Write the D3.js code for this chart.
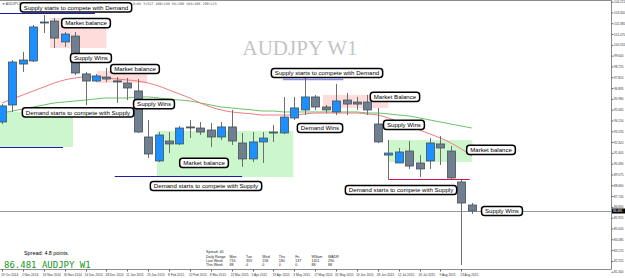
<!DOCTYPE html>
<html lang="en">
<head>
<meta charset="utf-8">
<script src="https://cdnjs.cloudflare.com/ajax/libs/d3/7.8.5/d3.min.js"></script>
<style>
  body { margin: 0; background: #fff; }
  svg { display: block; font-family: "Liberation Sans", Arial, sans-serif; }
</style>
</head>
<body>
<script>
// weekly bars, AUDJPY W1
let weeks = ["19 Oct 2014", "26 Oct 2014", "2 Nov 2014", "9 Nov 2014", "16 Nov 2014", "23 Nov 2014",
  "30 Nov 2014", "7 Dec 2014", "14 Dec 2014", "21 Dec 2014", "28 Dec 2014", "4 Jan 2015",
  "11 Jan 2015", "18 Jan 2015", "25 Jan 2015", "1 Feb 2015", "8 Feb 2015", "15 Feb 2015",
  "22 Feb 2015", "1 Mar 2015", "8 Mar 2015", "15 Mar 2015", "22 Mar 2015", "29 Mar 2015",
  "5 Apr 2015", "12 Apr 2015", "19 Apr 2015", "26 Apr 2015", "3 May 2015", "10 May 2015",
  "17 May 2015", "24 May 2015", "31 May 2015", "7 Jun 2015", "14 Jun 2015", "21 Jun 2015",
  "28 Jun 2015", "5 Jul 2015", "12 Jul 2015", "19 Jul 2015", "26 Jul 2015", "2 Aug 2015",
  "9 Aug 2015", "16 Aug 2015", "23 Aug 2015", "30 Aug 2015"];

let open = [94.02, 95.46, 98.93, 99.19, 102.49, 102.57, 100.80, 101.30, 98.09, 97.49, 97.83, 97.50,
  97.32, 96.65, 92.75, 90.72, 92.41, 92.16, 93.60, 93.51, 93.34, 92.75, 93.60, 92.24,
  90.89, 92.33, 93.17, 93.09, 94.36, 95.04, 96.14, 95.29, 94.87, 95.88, 95.71, 95.71,
  93.85, 91.22, 90.55, 91.56, 90.55, 90.72, 92.16, 91.56, 88.94, 86.99];
let high = [95.54, 99.27, 99.95, 102.24, 103.08, 102.83, 101.64, 101.64, 98.26, 98.09, 98.59, 97.83,
  97.75, 97.66, 94.19, 93.17, 93.17, 93.68, 94.19, 94.02, 93.93, 94.02, 95.04, 93.09,
  93.17, 93.17, 93.77, 96.14, 96.14, 97.75, 96.31, 95.46, 97.24, 96.48, 96.14, 96.31,
  95.21, 92.49, 91.82, 92.41, 91.22, 92.66, 92.83, 91.99, 89.11, 87.16];
let low = [93.85, 94.87, 98.26, 99.10, 101.56, 100.29, 100.37, 98.00, 95.46, 97.41, 97.41, 95.63,
  95.88, 93.10, 90.97, 90.63, 91.39, 92.07, 92.66, 92.92, 91.90, 92.49, 92.07, 90.21,
  90.63, 90.55, 92.33, 93.00, 94.19, 94.61, 95.04, 94.78, 94.61, 94.61, 95.04, 94.61,
  92.24, 89.19, 90.55, 90.04, 89.36, 90.04, 90.38, 89.19, 81.91, 86.23];
let close = [95.38, 99.10, 99.27, 102.07, 102.45, 101.13, 101.47, 98.17, 97.49, 97.92, 97.66, 97.49,
  96.90, 93.17, 91.31, 92.92, 92.16, 93.51, 93.58, 93.17, 92.75, 93.60, 92.41, 90.89,
  92.33, 92.66, 93.15, 94.44, 95.21, 96.14, 95.29, 95.04, 95.80, 95.54, 95.54, 95.04,
  92.33, 91.39, 91.48, 90.29, 90.04, 92.24, 91.82, 89.28, 87.16, 86.481];

// moving averages
let maRed = [95.63, 95.97, 96.31, 96.65, 96.98, 97.32, 97.58, 97.75, 97.83, 97.83, 97.75, 97.66,
  97.58, 97.49, 97.32, 97.07, 96.73, 96.39, 96.05, 95.63, 95.29, 95.04, 94.87, 94.78,
  94.70, 94.61, 94.61, 94.61, 94.61, 94.70, 94.78, 94.78, 94.78, 94.78, 94.78, 94.70,
  94.61, 94.36, 94.02, 93.68, 93.34, 93.00, 92.66, 92.24, 91.73, 91.14];
let maGreen = [94.78, 94.95, 95.12, 95.29, 95.46, 95.63, 95.71, 95.80, 95.88, 95.97, 96.05, 96.05,
  96.05, 96.14, 96.14, 96.05, 95.97, 95.88, 95.80, 95.63, 95.46, 95.29, 95.21, 95.12,
  95.04, 94.95, 94.95, 94.87, 94.87, 94.87, 94.87, 94.87, 94.87, 94.87, 94.87, 94.78,
  94.78, 94.70, 94.61, 94.53, 94.36, 94.19, 94.02, 93.85, 93.68, 93.51];

let priceTicks = [104.215, 103.300, 102.385, 101.470, 100.555, 99.640, 98.725, 97.810, 96.895,
  95.980, 95.065, 94.150, 93.235, 92.320, 91.405, 90.490, 89.575, 88.660, 87.745, 86.830,
  85.915, 85.000, 84.085, 83.170, 82.255, 81.340];
let bid = 86.481;

// drawn objects: [fromBar, toBar, topPrice, bottomPrice, kind]
let zones = [
  [4.6, 10.0, 102.83, 100.29, "supply"],
  [9.1, 13.9, 98.34, 97.32, "supply"],
  [-0.3, 6.8, 94.87, 91.90, "demand"],
  [14.85, 27.9, 93.26, 89.36, "demand"],
  [30.75, 37.0, 96.31, 95.21, "supply"],
  [37.0, 45.0, 92.49, 90.63, "demand"]
];
// [fromBar, toBar, price, kind]
let levels = [
  [-0.3, 8.9, 103.25, "navy"],
  [-0.3, 5.85, 91.90, "navy"],
  [10.8, 23.0, 89.44, "navy"],
  [26.9, 32.7, 97.66, "light"],
  [37.0, 44.8, 89.19, "red"]
];
// [bar, price, text]
let notes = [
  [7.09, 103.72, "Supply starts to compete with Demand"],
  [8.05, 102.40, "Market balance"],
  [8.52, 99.44, "Supply Wins"],
  [12.74, 98.51, "Market balance"],
  [14.56, 95.54, "Supply Wins"],
  [7.28, 94.83, "Demand starts to compete with Supply"],
  [19.35, 90.55, "Market balance"],
  [19.54, 88.60, "Demand starts to compete with Supply"],
  [31.13, 98.17, "Supply starts to compete with Demand"],
  [37.64, 96.14, "Market Balance"],
  [30.46, 93.51, "Demand Wins"],
  [38.5, 93.77, "Supply Wins"],
  [46.84, 91.65, "Market balance"],
  [38.22, 88.26, "Demand starts to compete with Supply"],
  [47.89, 86.48, "Supply Wins"]
];

let rangeCols = ["Mon", "Tue", "Wed", "Thu", "Fri", "WSum", "WADR"];
let lastWeek = [716, 359, 158, 180, 137, 1451, 290];
let thisWeek = [88, 0, 0, 0, 0, 88, 88];

let w = 625, h = 278;
let plotRight = 611, plotBottom = 269.5;

let svg = d3.select("body").append("svg")
  .attr("width", w)
  .attr("height", h);

let x = d3.scaleLinear().domain([0, 45]).range([2, 471.8]);
let y = d3.scaleLinear().domain([bid, 104.353]).range([211, 0]);

svg.append("clipPath").attr("id", "plot")
  .append("rect").attr("x", 0).attr("y", 0).attr("width", plotRight).attr("height", plotBottom);

let plot = svg.append("g").attr("clip-path", "url(#plot)");

// zones
plot.selectAll("rect.zone")
  .data(zones)
  .join("rect")
  .attr("class", "zone")
  .attr("x", d => x(d[0]))
  .attr("y", d => y(d[2]))
  .attr("width", d => x(d[1]) - x(d[0]))
  .attr("height", d => y(d[3]) - y(d[2]))
  .attr("fill", d => d[4] == "supply" ? "#ffdcdc" : "#ccf6cc");

// watermark
svg.append("text")
  .attr("x", 300).attr("y", 55)
  .attr("text-anchor", "middle")
  .attr("font-family", "'Liberation Serif', 'Times New Roman', serif")
  .attr("font-size", 21)
  .attr("fill", "#c4c4c4")
  .text("AUDJPY W1");

// header (partly hidden under the first note, as in the terminal)
svg.append("text").attr("x", 2).attr("y", 4.5).attr("font-size", 3.2).attr("fill", "#333")
  .text("\u25bc AUDJPY,W1");
svg.append("text").attr("x", 133).attr("y", 4.5).attr("font-size", 3.4).attr("fill", "#555")
  .attr("font-family", "'DejaVu Sans Mono', monospace")
  .text("D=88      Y=527  A00=189  S4=290  104=109  290=115");

// bid line
plot.append("line")
  .attr("x1", 0).attr("x2", plotRight)
  .attr("y1", Math.round(y(bid)) + 0.5).attr("y2", Math.round(y(bid)) + 0.5)
  .attr("stroke", "#9a9a9a").attr("stroke-width", 1);

// levels
let levelColor = { navy: "#1c1ca8", light: "#8c8cf0", red: "#d0143c" };
plot.selectAll("line.level")
  .data(levels)
  .join("line")
  .attr("class", "level")
  .attr("x1", d => x(d[0])).attr("x2", d => x(d[1]))
  .attr("y1", d => Math.round(y(d[2])) + 0.5).attr("y2", d => Math.round(y(d[2])) + 0.5)
  .attr("stroke", d => levelColor[d[3]])
  .attr("stroke-width", d => d[3] == "light" ? 1.5 : 1);

// moving averages
let maLine = d3.line().x((d, i) => x(i)).y(d => y(d)).curve(d3.curveMonotoneX);
plot.append("path").attr("d", maLine(maGreen))
  .attr("fill", "none").attr("stroke", "#66c466").attr("stroke-width", 1);
plot.append("path").attr("d", maLine(maRed))
  .attr("fill", "none").attr("stroke", "#f07a80").attr("stroke-width", 1);

// candles
let bars = d3.range(weeks.length);
let bw = 8;
plot.selectAll("line.wick")
  .data(bars)
  .join("line")
  .attr("class", "wick")
  .attr("x1", i => Math.round(x(i)) + 0.5).attr("x2", i => Math.round(x(i)) + 0.5)
  .attr("y1", i => y(high[i])).attr("y2", i => y(low[i]))
  .attr("stroke", "#6e6e6e").attr("stroke-width", 1);

plot.selectAll("rect.body")
  .data(bars)
  .join("rect")
  .attr("class", "body")
  .attr("x", i => Math.round(x(i)) + 0.5 - bw / 2)
  .attr("y", i => y(Math.max(open[i], close[i])))
  .attr("width", bw)
  .attr("height", i => Math.max(1, Math.abs(y(open[i]) - y(close[i]))))
  .attr("fill", i => close[i] > open[i] ? "#1e8fff" : "#6f7f8f")
  .attr("stroke", "#44505a").attr("stroke-width", 0.8);

// notes
let noteG = svg.selectAll("g.note")
  .data(notes)
  .join("g")
  .attr("class", "note")
  .attr("transform", d => "translate(" + x(d[0]) + "," + y(d[1]) + ")");
noteG.append("rect");
noteG.append("text")
  .attr("text-anchor", "middle")
  .attr("dy", "0.35em")
  .attr("font-size", 6.1)
  .attr("fill", "#000")
  .text(d => d[2]);
noteG.each(function () {
  let g = d3.select(this);
  let tw = g.select("text").node().getComputedTextLength();
  g.select("rect")
    .attr("x", -tw / 2 - 3.5).attr("y", -4.6)
    .attr("width", tw + 7).attr("height", 9.2)
    .attr("rx", 3)
    .attr("fill", "#fff").attr("stroke", "#000").attr("stroke-width", 1.5);
});

// frame
svg.append("line").attr("x1", 0).attr("x2", plotRight + 0.5).attr("y1", 0.5).attr("y2", 0.5)
  .attr("stroke", "#8c8c8c");
svg.append("line").attr("x1", plotRight + 0.5).attr("x2", plotRight + 0.5).attr("y1", 0).attr("y2", plotBottom)
  .attr("stroke", "#8c8c8c");
svg.append("line").attr("x1", 0).attr("x2", plotRight + 0.5).attr("y1", plotBottom).attr("y2", plotBottom)
  .attr("stroke", "#8c8c8c");

// price axis
let axisR = svg.append("g").attr("transform", "translate(" + (plotRight + 0.5) + ",0)")
  .call(d3.axisRight(y).tickValues(priceTicks).tickFormat(d3.format(".3f")).tickSize(2).tickPadding(0.5));
axisR.select(".domain").remove();
axisR.selectAll("text").attr("font-size", 3.1).attr("font-family", "'Liberation Sans', Arial, sans-serif").attr("fill", "#333");
axisR.selectAll("line").attr("stroke", "#666");

// bid tag
svg.append("rect").attr("x", plotRight + 1).attr("y", y(bid) - 2.5).attr("width", 13).attr("height", 5)
  .attr("fill", "#000");
svg.append("text").attr("x", plotRight + 2).attr("y", y(bid) + 1.2)
  .attr("font-size", 3.1).attr("fill", "#fff").text(d3.format(".3f")(bid));

// date axis
let dateIdx = bars.filter(i => i % 2 == 0);
svg.selectAll("text.date")
  .data(dateIdx)
  .join("text")
  .attr("class", "date")
  .attr("x", i => Math.max(0.5, x(i) - 1))
  .attr("y", 276)
  .attr("font-size", 3.2)
  .attr("fill", "#333")
  .text(i => weeks[i]);
svg.selectAll("line.dtick")
  .data(dateIdx)
  .join("line")
  .attr("class", "dtick")
  .attr("x1", i => Math.round(x(i)) + 0.5).attr("x2", i => Math.round(x(i)) + 0.5)
  .attr("y1", plotBottom).attr("y2", plotBottom + 2)
  .attr("stroke", "#666");

// info
svg.append("text").attr("x", 24).attr("y", 254.5).attr("font-size", 5.4).attr("fill", "#000")
  .text("Spread: 4.8 points.");
svg.append("text").attr("x", 4).attr("y", 267.5)
  .attr("font-family", "'DejaVu Sans Mono', monospace")
  .attr("font-size", 9).attr("fill", "#14961e")
  .text(d3.format(".3f")(bid) + " AUDJPY W1");

let tbl = svg.append("g").attr("font-size", 3.6).attr("fill", "#222");
tbl.append("text").attr("x", 206).attr("y", 253).text("Spread: 40");
tbl.append("text").attr("x", 206).attr("y", 258).text("Daily Range");
tbl.append("text").attr("x", 206).attr("y", 262).text("Last Week");
tbl.append("text").attr("x", 206).attr("y", 266).text("This Week");
let colX = d3.scalePoint().domain(rangeCols).range([229.5, 328]);
rangeCols.forEach(function (c, k) {
  tbl.append("text").attr("x", colX(c)).attr("y", 258).text(c);
  tbl.append("text").attr("x", colX(c)).attr("y", 262).text(lastWeek[k]);
  tbl.append("text").attr("x", colX(c)).attr("y", 266).text(thisWeek[k]);
});
</script>
</body>
</html>
